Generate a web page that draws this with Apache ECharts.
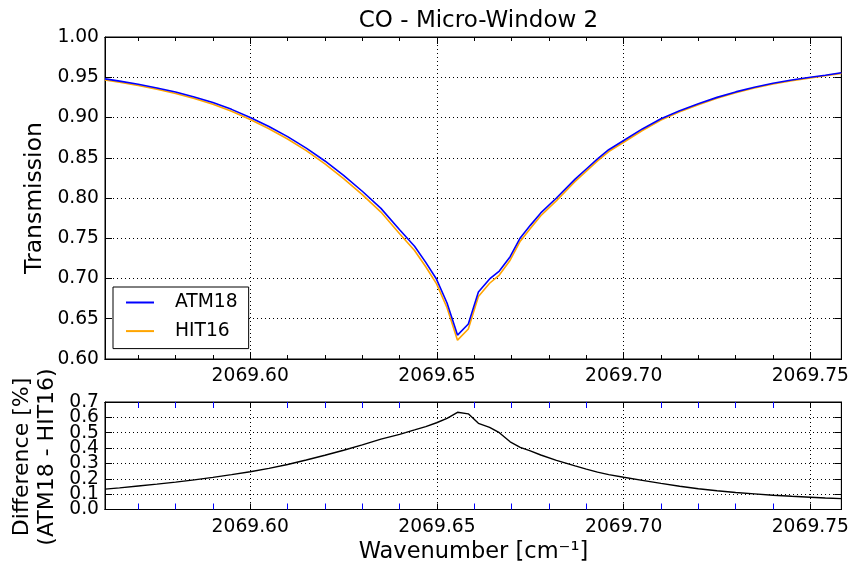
<!DOCTYPE html>
<html>
<head>
<meta charset="utf-8">
<script src="https://cdn.jsdelivr.net/npm/echarts@6/dist/echarts.min.js"></script>
<style>
html,body{margin:0;padding:0;background:#fff;}
#chart{width:852px;height:566px;}
</style>
</head>
<body>
<div id="chart"></div>
<script>
const wavenumber = [2069.5611, 2069.5650, 2069.5700, 2069.5750, 2069.5800, 2069.5850, 2069.5900, 2069.5950, 2069.6000, 2069.6050, 2069.6100, 2069.6150, 2069.6200, 2069.6250, 2069.6300, 2069.6350, 2069.6400, 2069.6440, 2069.6470, 2069.6499, 2069.6527, 2069.6555, 2069.6584, 2069.6611, 2069.6641, 2069.6667, 2069.6696, 2069.6723, 2069.6750, 2069.6778, 2069.6820, 2069.6870, 2069.6900, 2069.6930, 2069.6960, 2069.7000, 2069.7050, 2069.7100, 2069.7150, 2069.7200, 2069.7250, 2069.7300, 2069.7350, 2069.7400, 2069.7450, 2069.7500, 2069.7540, 2069.7583];
const atm18 = [0.9480, 0.9452, 0.9413, 0.9367, 0.9316, 0.9255, 0.9185, 0.9101, 0.9000, 0.8888, 0.8762, 0.8620, 0.8460, 0.8280, 0.8084, 0.7871, 0.7606, 0.7400, 0.7200, 0.6990, 0.6695, 0.6297, 0.6434, 0.6832, 0.6994, 0.7093, 0.7271, 0.7504, 0.7660, 0.7815, 0.8000, 0.8235, 0.8360, 0.8485, 0.8600, 0.8714, 0.8858, 0.8985, 0.9085, 0.9172, 0.9250, 0.9318, 0.9376, 0.9425, 0.9466, 0.9500, 0.9525, 0.9555];
const hit16 = [0.9467, 0.9438, 0.9398, 0.9350, 0.9298, 0.9236, 0.9164, 0.9078, 0.8975, 0.8861, 0.8733, 0.8588, 0.8425, 0.8241, 0.8042, 0.7825, 0.7557, 0.7348, 0.7146, 0.6934, 0.6636, 0.6234, 0.6372, 0.6776, 0.6941, 0.7043, 0.7227, 0.7464, 0.7622, 0.7780, 0.7968, 0.8207, 0.8334, 0.8461, 0.8577, 0.8693, 0.8839, 0.8968, 0.9070, 0.9159, 0.9238, 0.9307, 0.9366, 0.9416, 0.9457, 0.9492, 0.9518, 0.9548];
const diffPct = [0.133, 0.141, 0.153, 0.165, 0.178, 0.193, 0.209, 0.227, 0.246, 0.268, 0.293, 0.322, 0.353, 0.386, 0.421, 0.458, 0.489, 0.518, 0.540, 0.565, 0.594, 0.633, 0.623, 0.561, 0.535, 0.500, 0.441, 0.405, 0.382, 0.355, 0.320, 0.284, 0.263, 0.243, 0.227, 0.210, 0.190, 0.170, 0.151, 0.135, 0.122, 0.111, 0.102, 0.093, 0.086, 0.080, 0.075, 0.0705];
const xMajorTicks = [2069.60, 2069.65, 2069.70, 2069.75];
const xMinorTicks = [2069.57, 2069.58, 2069.59, 2069.61, 2069.62, 2069.63, 2069.64, 2069.66, 2069.67, 2069.68, 2069.69, 2069.71, 2069.72, 2069.73, 2069.74];
const xMin = 2069.5611, xMax = 2069.7583;
const seriesNames = ['ATM18', 'HIT16'];
const titleText = 'CO - Micro-Window 2';

const FONT = 'DejaVu Sans';
const TICKF = 18.7;
const grids = [
  {left: 105, top: 37, width: 737, height: 322, show: true, borderColor: '#000', borderWidth: 1},
  {left: 105, top: 402, width: 737, height: 107.5, show: true, borderColor: '#000', borderWidth: 1}
];
const dotted = {show: true, lineStyle: {color: '#000', width: 1, type: [1, 3]}};

function xAx(grid, pos, vals, opts) {
  return Object.assign({
    type: 'value', gridIndex: grid, position: pos, min: xMin, max: xMax,
    axisLine: {show: true, onZero: false, lineStyle: {color: '#000', width: 1}},
    axisTick: {show: true, inside: true, length: opts.len, customValues: vals, lineStyle: {color: opts.color || '#000', width: 1}},
    axisLabel: {show: false},
    splitLine: {show: false}
  }, opts.extra || {});
}
const xLabel = {show: true, customValues: xMajorTicks, formatter: v => v.toFixed(2), fontFamily: FONT, fontSize: TICKF, color: '#000', margin: 8};
const xAxes = [
  xAx(0, 'bottom', xMajorTicks, {len: 7, extra: {axisLabel: xLabel, splitLine: dotted}}),
  xAx(0, 'bottom', xMinorTicks, {len: 4}),
  xAx(0, 'top', xMajorTicks, {len: 7}),
  xAx(0, 'top', xMinorTicks, {len: 4}),
  xAx(1, 'bottom', xMajorTicks, {len: 6, extra: {axisLabel: xLabel, splitLine: dotted}}),
  xAx(1, 'bottom', xMinorTicks, {len: 6, color: '#0000ff'}),
  xAx(1, 'top', xMajorTicks, {len: 6}),
  xAx(1, 'top', xMinorTicks, {len: 6, color: '#0000ff'})
];
function yAx(grid, pos, min, max, interval, dec, labels, fmt, lineOn) {
  return {
    type: 'value', gridIndex: grid, position: pos, min: min, max: max, interval: interval,
    axisLine: {show: lineOn !== false, onZero: false, lineStyle: {color: '#000', width: 1}},
    axisTick: {show: lineOn !== false, inside: true, length: 7, lineStyle: {color: '#000'}},
    axisLabel: {show: labels, showMinLabel: true, showMaxLabel: true,
      formatter: fmt || (v => v.toFixed(dec)), fontFamily: FONT, fontSize: TICKF, color: '#000', margin: 6},
    splitLine: (labels && lineOn !== false) ? dotted : {show: false}
  };
}
const evenTenth = v => (Math.round(v * 10) % 2 === 0 ? v.toFixed(1) : '');
const oddTenth = v => (Math.round(v * 10) % 2 === 1 ? v.toFixed(1) : '');
const yAxes = [
  yAx(0, 'left', 0.6, 1.0, 0.05, 2, true),
  yAx(0, 'right', 0.6, 1.0, 0.05, 2, false),
  yAx(1, 'left', 0, 0.7, 0.1, 1, true, evenTenth),
  yAx(1, 'right', 0, 0.7, 0.1, 1, false),
  yAx(1, 'left', 0, 0.7, 0.1, 1, true, oddTenth, false)
];

const chart = echarts.init(document.getElementById('chart'), null, {renderer: 'canvas'});
chart.setOption({
  animation: false,
  backgroundColor: '#fff',
  title: {text: titleText, left: 473.5, top: 5, textAlign: 'center',
    textStyle: {fontFamily: FONT, fontSize: 23, fontWeight: 'normal', color: '#000'}},
  grid: grids,
  xAxis: xAxes,
  yAxis: yAxes,
  legend: {
    data: seriesNames, orient: 'vertical', left: 113, top: 287,
    icon: 'rect', itemWidth: 28, itemHeight: 2, itemGap: 9.6,
    padding: [6, 11, 8, 13], borderColor: '#000', borderWidth: 1, backgroundColor: '#fff',
    textStyle: {fontFamily: FONT, fontSize: TICKF, color: '#000', padding: [0, 0, 0, 16]}
  },
  graphic: [
    {type: 'text', x: 35, y: 198, rotation: Math.PI / 2,
      style: {text: 'Transmission', fontFamily: FONT, fontSize: 23.5, fill: '#000', align: 'center', verticalAlign: 'middle'}},
    {type: 'text', x: 22, y: 457, rotation: Math.PI / 2,
      style: {text: 'Difference [%]', fontFamily: FONT, fontSize: 22, fill: '#000', align: 'center', verticalAlign: 'middle'}},
    {type: 'text', x: 47, y: 457, rotation: Math.PI / 2,
      style: {text: '(ATM18 - HIT16)', fontFamily: FONT, fontSize: 22, fill: '#000', align: 'center', verticalAlign: 'middle'}},
    {type: 'text', x: 473.5, y: 552,
      style: {text: 'Wavenumber [cm⁻¹]', fontFamily: FONT, fontSize: 22.5, fill: '#000', align: 'center', verticalAlign: 'middle'}}
  ],
  series: [
    {name: 'ATM18', type: 'line', xAxisIndex: 0, yAxisIndex: 0, z: 3, showSymbol: false, symbol: 'none',
      data: wavenumber.map((x, i) => [x, atm18[i]]), lineStyle: {color: '#0000ff', width: 1.6}, itemStyle: {color: '#0000ff'}},
    {name: 'HIT16', type: 'line', xAxisIndex: 0, yAxisIndex: 0, z: 2, showSymbol: false, symbol: 'none',
      data: wavenumber.map((x, i) => [x, hit16[i]]), lineStyle: {color: '#ffa500', width: 1.6}, itemStyle: {color: '#ffa500'}},
    {name: 'Difference', type: 'line', xAxisIndex: 4, yAxisIndex: 2, showSymbol: false, symbol: 'none',
      data: wavenumber.map((x, i) => [x, diffPct[i]]), lineStyle: {color: '#000', width: 1.4}, itemStyle: {color: '#000'}}
  ]
});
</script>
</body>
</html>
